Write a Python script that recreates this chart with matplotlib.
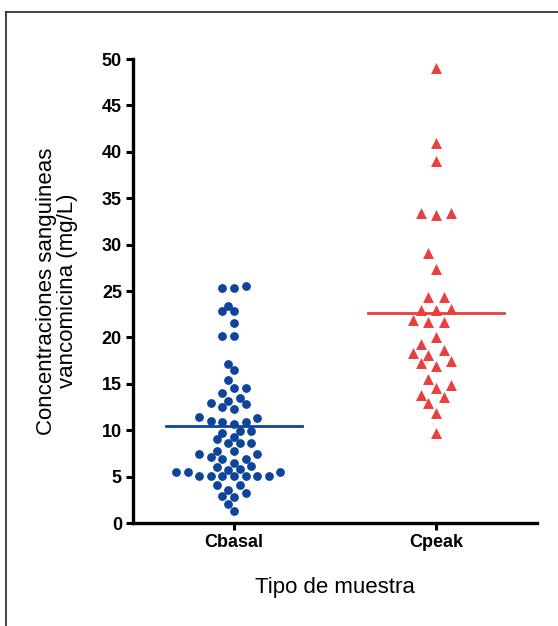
import numpy as np
import matplotlib
matplotlib.use("Agg")
import matplotlib.pyplot as plt
from matplotlib.lines import Line2D

plt.rcParams["font.family"] = ["Liberation Sans", "DejaVu Sans"]

# data (mg/L)
categories = ["Cbasal", "Cpeak"]
cbasal = [25.3, 25.3, 25.5, 22.8, 22.8, 23.4, 21.6, 20.2, 20.2, 17.1, 16.5,
          15.4, 14.5, 14.0, 14.5, 13.5, 13.2, 12.8, 12.9, 12.5, 12.3,
          11.4, 11.3, 10.9, 10.9, 11.0, 10.7, 9.95, 9.95, 9.7, 9.3, 9.0,
          8.6, 8.6, 8.6, 7.8, 7.8, 7.4, 7.4, 7.1, 6.9, 6.9,
          6.5, 6.1, 6.0, 5.7, 5.8, 5.5, 5.5, 5.5,
          5.1, 5.1, 5.1, 5.1, 5.1, 5.1, 5.1,
          4.1, 4.1, 3.6, 3.2, 2.9, 2.8, 2.0, 1.3]
cpeak = [49.0, 41.0, 39.0, 33.4, 33.4, 33.2, 29.1, 27.4, 24.3, 24.3,
         22.95, 22.9, 23.1, 21.9, 21.7, 21.7, 20.0, 19.3, 18.6, 18.1, 18.3,
         17.5, 17.2, 16.9, 15.5, 14.9, 14.6, 13.8, 13.6, 12.9, 11.9, 9.7]
center_lines = [10.4, 22.6]
yticks = [0, 5, 10, 15, 20, 25, 30, 35, 40, 45, 50]

blue = "#0E459B"
red = "#E8403F"


def swarm_offsets(ax, xc, values, step_px, ax_px, ay_px):
    """GraphPad-like column scatter: grid offsets, elliptical collision test."""
    trans = ax.transData
    px_per_x = trans.transform((1, 0))[0] - trans.transform((0, 0))[0]
    ys = [trans.transform((xc, v))[1] for v in values]
    order = np.argsort(values, kind="stable")
    placed = []
    offs = np.zeros(len(values))
    for i in order:
        y = ys[i]
        k = 0
        while True:
            cands = [0] if k == 0 else [-k, k]
            ok = None
            for c in cands:
                x = c * step_px
                if all(((x - px) / ax_px) ** 2 + ((y - py) / ay_px) ** 2 >= 1
                       for px, py in placed):
                    ok = x
                    break
            if ok is not None:
                placed.append((ok, y))
                offs[i] = ok / px_per_x
                break
            k += 1
    return offs


fig = plt.figure(figsize=(5.58, 6.26), dpi=100)
ax = fig.add_axes([133 / 558, 1 - 523 / 626, 404 / 558, 464 / 626])
ax.set_xlim(-0.5, 1.5)
ax.set_ylim(0, 50)

groups = [(cbasal, blue, "o", 40, 5.8, 6.5, 10.5),
          (cpeak, red, "^", 62, 7.7, 9.0, 16.0)]
for i, (vals, col, mk, ms, step, a, b) in enumerate(groups):
    off = swarm_offsets(ax, i, vals, step, a, b)
    ax.scatter(i + off, vals, s=ms, marker=mk, color=col, linewidths=0, zorder=3)
    ax.plot([i - 0.335, i + 0.335], [center_lines[i], center_lines[i]],
            color=col, lw=2, zorder=2)

ax.spines["top"].set_visible(False)
ax.spines["right"].set_visible(False)
for s in ("left", "bottom"):
    ax.spines[s].set_linewidth(2.4)
ax.set_yticks(yticks)
ax.set_xticks([0, 1])
ax.set_xticklabels(categories, fontweight="bold", fontsize=13)
for lab in ax.get_yticklabels():
    lab.set_fontweight("bold")
    lab.set_fontsize(13)
ax.tick_params(axis="both", width=2.2, length=5, color="black", pad=3)

ax.set_ylabel("Concentraciones sanguineas\nvancomicina (mg/L)", fontsize=16,
              labelpad=17, linespacing=1.0)
ax.set_xlabel("Tipo de muestra", fontsize=16, labelpad=19)

# outer frame (left and top edges visible)
fig.add_artist(Line2D([5.5 / 558, 5.5 / 558], [0, 1 - 12 / 626],
                      transform=fig.transFigure, color="#333333", lw=1.3))
fig.add_artist(Line2D([5.5 / 558, 1], [1 - 12 / 626, 1 - 12 / 626],
                      transform=fig.transFigure, color="#333333", lw=1.3))

fig.savefig("out.png", dpi=100)
